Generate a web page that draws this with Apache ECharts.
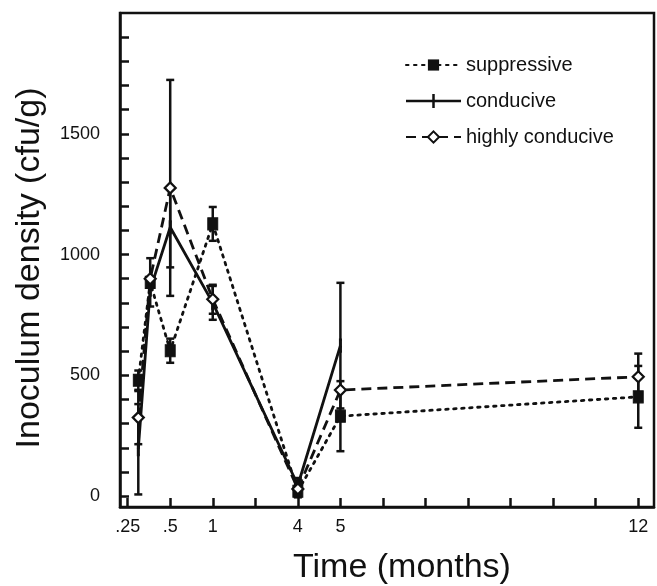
<!DOCTYPE html>
<html>
<head>
<meta charset="utf-8">
<script src="https://cdn.jsdelivr.net/npm/echarts@6/dist/echarts.min.js"></script>
<style>
  html, body { margin: 0; padding: 0; background: #fff; }
  #chart { width: 657px; height: 586px; }
</style>
</head>
<body>
<div id="chart"></div>
<script>
// Sampling dates, given as their slot on the (broken) time axis
const sampleSlots = [0.25, 0.53, 1, 2, 4, 5, 12];

// Labelled ticks on the time axis
const tickSlots = [0, 1, 2, 4, 5, 12];
const tickLabels = ['.25', '.5', '1', '4', '5', '12'];

// Inoculum density (cfu/g), mean and error for each soil type
const suppressive      = [480, 885, 602, 1127, 20, 331, 411];
const suppressiveErr   = [40, 100, 50, 70, 25, 145, 128];
const conducive        = [194, 855, 1113, 800, 45, 623, null];
const conduciveErr     = [187, 0, 166, 70, 30, 260, null];
const highlyConducive  = [325, 900, 1276, 815, 30, 439, 494];
const highlyConduciveErr = [110, 0, 447, 60, 30, 0, 96];

const yLabelValues = [0, 500, 1000, 1500];

const INK = '#111';
const FONT = 'Liberation Sans, Arial, Helvetica, sans-serif';

function points(values) {
  const out = [];
  values.forEach((v, i) => { if (v !== null) out.push([sampleSlots[i], v]); });
  return out;
}
function bars(values, errs) {
  const out = [];
  values.forEach((v, i) => {
    if (v !== null && errs[i]) out.push([sampleSlots[i], v - errs[i], v + errs[i]]);
  });
  return out;
}
function errorBarSeries(values, errs) {
  return {
    type: 'custom',
    silent: true,
    z: 3,
    data: bars(values, errs),
    encode: { x: 0, y: [1, 2] },
    renderItem: function (params, api) {
      const lo = api.coord([api.value(0), api.value(1)]);
      const hi = api.coord([api.value(0), api.value(2)]);
      const w = 4;
      const style = { stroke: INK, lineWidth: 2.5 };
      return {
        type: 'group',
        children: [
          { type: 'line', shape: { x1: lo[0], y1: lo[1], x2: hi[0], y2: hi[1] }, style },
          { type: 'line', shape: { x1: lo[0] - w, y1: lo[1], x2: lo[0] + w, y2: lo[1] }, style },
          { type: 'line', shape: { x1: hi[0] - w, y1: hi[1], x2: hi[0] + w, y2: hi[1] }, style }
        ]
      };
    }
  };
}

const xTicks = [];
for (let i = 0; i <= 12; i++) xTicks.push(i);
const yTicks = [];
for (let v = 0; v < 2000; v += 100) yTicks.push(v);

const chart = echarts.init(document.getElementById('chart'), null, { renderer: 'canvas' });

chart.setOption({
  backgroundColor: '#fff',
  animation: false,
  textStyle: { fontFamily: FONT, color: INK },
  grid: {
    left: 120, right: 3, top: 13, bottom: 79,
    outerBoundsMode: 'none', containLabel: false,
    show: true, borderColor: INK, borderWidth: 2.5, backgroundColor: 'transparent'
  },
  legend: {
    orient: 'vertical',
    left: 400, top: 50,
    itemWidth: 55, itemHeight: 14, itemGap: 16,
    textStyle: { fontSize: 20, color: INK, fontFamily: FONT },
    data: [
      { name: 'suppressive' },
      { name: 'conducive', icon: 'path://M0,5.75h55v2.5h-55z M26.25,0h2.5v14h-2.5z' },
      { name: 'highly conducive' }
    ]
  },
  xAxis: {
    type: 'value',
    min: -0.18, max: 12.37,
    name: 'Time (months)',
    nameLocation: 'middle',
    nameGap: 44,
    nameTextStyle: { fontSize: 34, color: INK, fontFamily: FONT, padding: [0, 0, 0, 30] },
    axisLine: { show: true, onZero: false, lineStyle: { color: INK, width: 2.5 } },
    splitLine: { show: false },
    axisTick: { show: true, inside: true, length: 9, customValues: xTicks,
                lineStyle: { color: INK, width: 2.5 } },
    axisLabel: {
      customValues: tickSlots,
      margin: 11, fontSize: 18, color: INK, fontFamily: FONT,
      formatter: function (v) {
        const k = tickSlots.indexOf(v);
        return k >= 0 ? tickLabels[k] : '';
      }
    }
  },
  yAxis: {
    type: 'value',
    min: -45, max: 2000,
    name: 'Inoculum density (cfu/g)',
    nameLocation: 'middle',
    nameRotate: 90,
    nameGap: 73,
    nameTextStyle: { fontSize: 34, color: INK, fontFamily: FONT, padding: [0, 16, 0, 0] },
    axisLine: { show: true, onZero: false, lineStyle: { color: INK, width: 2.5 } },
    splitLine: { show: false },
    axisTick: { show: true, inside: true, length: 9, customValues: yTicks,
                lineStyle: { color: INK, width: 2.5 } },
    axisLabel: { customValues: yLabelValues, margin: 20, fontSize: 18, color: INK, fontFamily: FONT,
                 formatter: function (v) { return String(v); } }
  },
  series: [
    {
      name: 'suppressive', type: 'line', z: 4,
      data: points(suppressive),
      symbol: 'rect', symbolSize: [10, 12],
      itemStyle: { color: INK, borderColor: INK },
      lineStyle: { color: INK, width: 2.8, type: [2.5, 5.5], cap: 'round' }
    },
    {
      name: 'conducive', type: 'line', z: 4,
      data: points(conducive),
      symbol: 'rect', symbolSize: [2.5, 12],
      itemStyle: { color: INK, borderColor: INK },
      lineStyle: { color: INK, width: 2.8, type: 'solid' }
    },
    {
      name: 'highly conducive', type: 'line', z: 5,
      data: points(highlyConducive),
      symbol: 'diamond', symbolSize: 11,
      itemStyle: { color: '#fff', borderColor: INK, borderWidth: 2.2 },
      lineStyle: { color: INK, width: 2.8, type: [10, 6] }
    },
    errorBarSeries(suppressive, suppressiveErr),
    errorBarSeries(conducive, conduciveErr),
    errorBarSeries(highlyConducive, highlyConduciveErr)
  ]
});
</script>
</body>
</html>
